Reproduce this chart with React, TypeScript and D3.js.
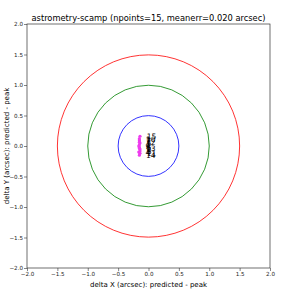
import React, { useEffect, useRef } from "react";
import * as d3 from "d3";

const title = "astrometry-scamp (npoints=15, meanerr=0.020 arcsec)";
const xLabel = "delta X (arcsec): predicted - peak";
const yLabel = "delta Y (arcsec): predicted - peak";
const ticks = [-2.0, -1.5, -1.0, -0.5, 0.0, 0.5, 1.0, 1.5, 2.0];
const radii = [0.5, 1.0, 1.5];
const radiusColors = ["blue", "green", "red"];
// offsets of each star
const ptIds = ["1", "2", "3", "4", "5", "6", "7", "8", "9", "10", "11", "12", "13", "14", "15"];
const ptX = [-0.15, -0.14, -0.15, -0.16, -0.14, -0.15, -0.15, -0.14, -0.16, -0.15, -0.14, -0.15, -0.15, -0.15, -0.14];
const ptY = [0.02, -0.05, 0.08, -0.1, 0.05, -0.02, 0.1, -0.08, 0.0, 0.12, -0.12, 0.06, -0.04, -0.15, 0.16];

export default function App() {
  const ref = useRef<SVGSVGElement>(null);

  useEffect(() => {
    const svg = d3.select(ref.current);
    svg.selectAll("*").remove();
    const left = 27, right = 270, top = 24, bottom = 268;
    const x = d3.scaleLinear().domain([-2, 2]).range([left, right]);
    const y = d3.scaleLinear().domain([-2, 2]).range([bottom, top]);
    const font = "DejaVu Sans, sans-serif";

    svg.append("rect").attr("width", 287).attr("height", 303).attr("fill", "white");

    const g = svg.append("g");
    g.selectAll("circle.ring")
      .data(radii)
      .enter()
      .append("circle")
      .attr("cx", x(0))
      .attr("cy", y(0))
      .attr("r", (d) => x(d) - x(0))
      .attr("fill", "none")
      .attr("stroke", (d, i) => radiusColors[i])
      .attr("stroke-width", 0.8);

    g.selectAll("circle.pt")
      .data(ptX)
      .enter()
      .append("circle")
      .attr("cx", (d) => x(d))
      .attr("cy", (d, i) => y(ptY[i]))
      .attr("r", 1.6)
      .attr("fill", "#ee3cee");

    g.selectAll("text.pt")
      .data(ptX)
      .enter()
      .append("text")
      .attr("x", (d) => x(d + 0.11))
      .attr("y", (d, i) => y(ptY[i]) + 3)
      .attr("font-family", font)
      .attr("font-size", 7.5)
      .attr("fill", "black")
      .text((d, i) => ptIds[i]);

    const fmt = (d: any) => d3.format(".1f")(d as number).replace("-", "\u2212");
    const xAxis = d3.axisBottom(x).tickValues(ticks).tickSize(3).tickPadding(1).tickFormat(fmt);
    const yAxis = d3.axisLeft(y).tickValues(ticks).tickSize(3).tickPadding(1).tickFormat(fmt);

    const gx = svg.append("g").attr("transform", `translate(0,${bottom})`).call(xAxis);
    const gy = svg.append("g").attr("transform", `translate(${left},0)`).call(yAxis);
    [gx, gy].forEach((a) => {
      a.select(".domain").remove();
      a.selectAll("line").attr("stroke", "#333").attr("stroke-width", 0.6);
      a.selectAll("text").attr("font-family", font).attr("font-size", 5.6).attr("fill", "#222");
    });

    svg.append("rect")
      .attr("x", left).attr("y", top)
      .attr("width", right - left).attr("height", bottom - top)
      .attr("fill", "none").attr("stroke", "#333").attr("stroke-width", 0.7);

    svg.append("text")
      .attr("x", (left + right) / 2).attr("y", top - 3)
      .attr("text-anchor", "middle")
      .attr("font-family", font).attr("font-size", 8.3)
      .text(title);

    svg.append("text")
      .attr("x", (left + right) / 2).attr("y", 287)
      .attr("text-anchor", "middle")
      .attr("font-family", font).attr("font-size", 7)
      .text(xLabel);

    svg.append("text")
      .attr("transform", `translate(9,${(top + bottom) / 2}) rotate(-90)`)
      .attr("text-anchor", "middle")
      .attr("font-family", font).attr("font-size", 7)
      .text(yLabel);
  }, []);

  return <svg ref={ref} width={287} height={303} style={{ position: "absolute", left: 0, top: 0 }} />;
}
